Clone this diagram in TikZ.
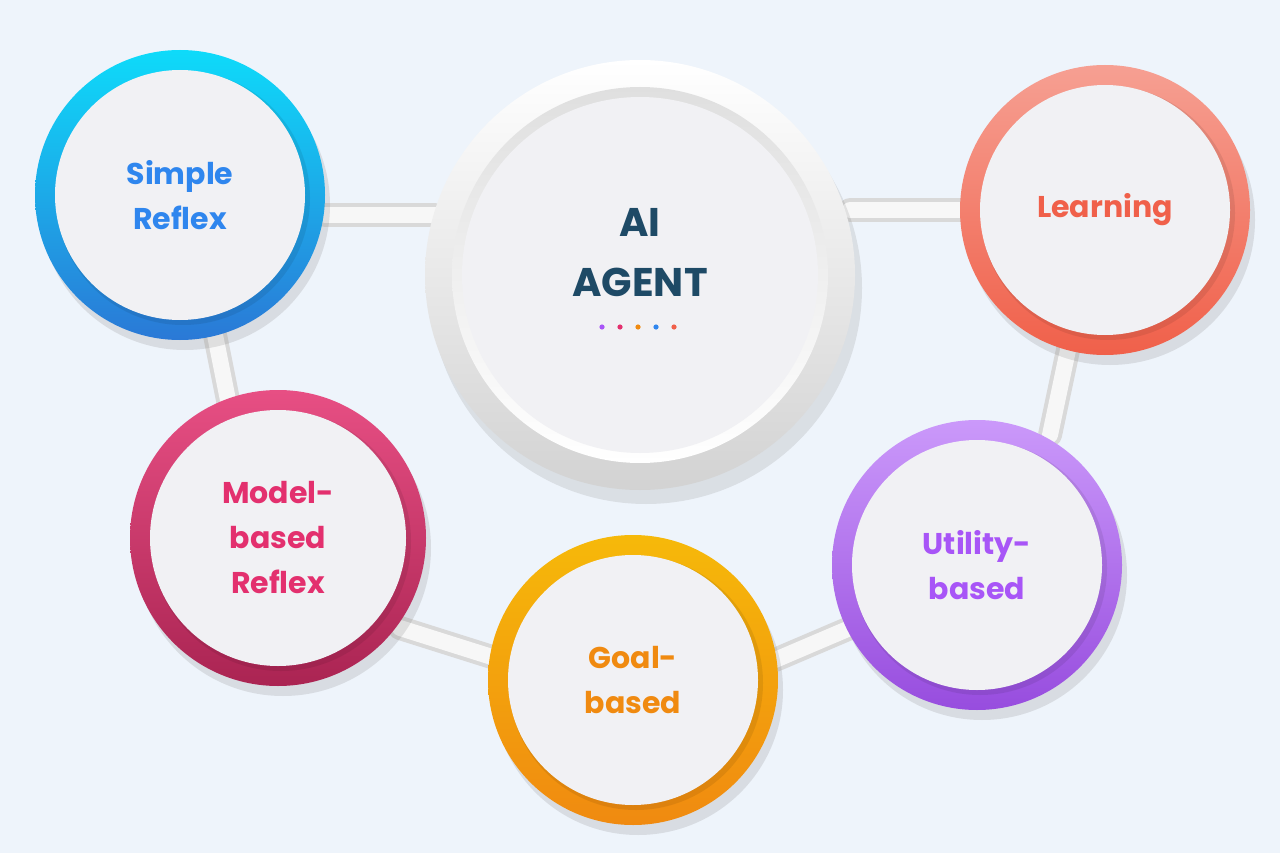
\documentclass[tikz,border=0pt]{standalone}
\usepackage{fontspec}
\setmainfont{Poppins}
\definecolor{bg}{HTML}{EEF4FB}
\definecolor{inner}{HTML}{F1F1F4}
\definecolor{navy}{HTML}{1E4A66}
\definecolor{cblue}{HTML}{2F86EE}
\definecolor{cred}{HTML}{F0604A}
\definecolor{cpink}{HTML}{E3306E}
\definecolor{corange}{HTML}{F08A10}
\definecolor{cpurple}{HTML}{A855F7}
\begin{document}
\begin{tikzpicture}[x=1pt,y=-1pt,
  lbl/.style={font=\bfseries\fontsize{30}{45}\selectfont,align=center},
  link/.style={line width=24pt,line cap=round,draw=gray!30},
  linkin/.style={line width=16pt,line cap=round,draw=white!94!gray}]
\useasboundingbox[fill=bg] (0,0) rectangle (1280,853);
% connectors
\coordinate (c1a) at (325,215); \coordinate (c1b) at (435,215);
\coordinate (c2a) at (850,210); \coordinate (c2b) at (965,210);
\coordinate (c3a) at (215,335); \coordinate (c3b) at (228,400);
\coordinate (c4a) at (1068,350); \coordinate (c4b) at (1050,435);
\coordinate (c5a) at (400,628); \coordinate (c5b) at (495,658);
\coordinate (c6a) at (775,660); \coordinate (c6b) at (850,628);
\foreach \a/\b in {c1a/c1b,c2a/c2b,c3a/c3b,c4a/c4b,c5a/c5b,c6a/c6b}{
  \draw[link] (\a) -- (\b); \draw[linkin] (\a) -- (\b);}
% AI agent
\fill[gray,opacity=0.18] (646,288) circle (216);
\shade[top color=white,bottom color=gray!35] (640,275) circle (215);
\shade[top color=gray!25,bottom color=white] (640,275) circle (188);
\fill[inner] (640,275) circle (178);
\node[lbl,text=navy,font=\bfseries\fontsize{40}{60}\selectfont] (ai) at (640,253) {AI\\AGENT};
\foreach \x/\c in {602/cpurple,620/cpink,638/corange,656/cblue,674/cred}
  \fill[\c] (\x,327) circle (2.6);
% small circles
\foreach \n/\x/\y/\r/\ca/\cb/\t/\txt in {
  sr/180/195/145/cyan!70!cblue/cblue!90!black/cblue/{Simple\\Reflex},
  le/1105/210/145/cred!60!white/cred/cred/{Learning},
  mb/278/538/148/cpink!85!white/cpink!75!black/cpink/{Model-\\based\\Reflex},
  gb/633/680/145/corange!60!yellow/corange/corange/{Goal-\\based},
  ub/977/565/145/cpurple!60!white/cpurple!90!black/cpurple/{Utility-\\based}}{
  \fill[gray,opacity=0.2] (\x+5,\y+10) circle (\r);
  \shade[top color=\ca,bottom color=\cb] (\x,\y) circle (\r);
  \fill[black,opacity=0.08] (\x+3,\y+3) circle (\r-18);
  \fill[inner] (\x,\y) circle (\r-20);
  \node[lbl,text=\t] (\n) at (\x,\y) {\txt};
}
\end{tikzpicture}
\end{document}
